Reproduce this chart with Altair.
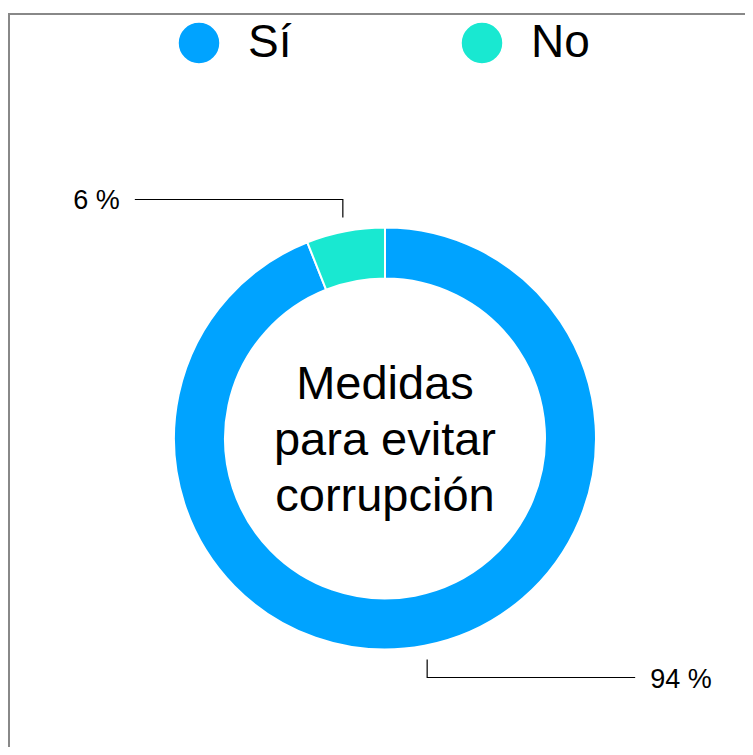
import altair as alt
import pandas as pd
import numpy as np

categories = ["Sí", "No"]
values = [94, 6]
labels = ["94 %", "6 %"]
colors = ["#00A3FF", "#19E8D1"]
center_title = ["Medidas", "para evitar", "corrupción"]

FONT = "Liberation Sans"
W, H = 737, 739
CX, CY = 377, 430.5
R_OUT, R_IN = 211, 160
R_LEAD = 225
ELBOW = 18
ARM = 208
GAP = 15
LH = 56

df = pd.DataFrame({"cat": categories, "value": values, "label": labels,
                   "idx": list(range(len(categories)))})
total = df["value"].sum()
start = df["value"].cumsum() - df["value"]
mid = (start + df["value"] / 2) / total * 2 * np.pi

rows = []
trows = []
for i, r in df.iterrows():
    a = mid[i]
    x0 = CX + R_LEAD * np.sin(a)
    y0 = CY - R_LEAD * np.cos(a)
    up = np.cos(a) > 0
    left = np.sin(a) < 0
    y1 = y0 - ELBOW if up else y0 + ELBOW
    x2 = x0 - ARM if left else x0 + ARM
    for k, (px, py) in enumerate([(x0, y0), (x0, y1), (x2, y1)]):
        rows.append({"cat": r["cat"], "k": k, "px": px, "py": py})
    trows.append({"label": r["label"], "tx": x2 - GAP if left else x2 + GAP,
                  "ty": y1, "side": "left" if left else "right"})
lines_df = pd.DataFrame(rows)
text_df = pd.DataFrame(trows)

arc = alt.Chart(df).mark_arc(outerRadius=R_OUT, innerRadius=R_IN, stroke="white",
                             strokeWidth=2).encode(
    theta=alt.Theta("value:Q", stack=True),
    order=alt.Order("idx:Q", sort="ascending"),
    color=alt.Color("cat:N", scale=alt.Scale(domain=categories, range=colors),
                    legend=alt.Legend(orient="none", legendX=168, legendY=12,
                                      direction="horizontal", title=None,
                                      symbolType="circle", symbolSize=1764,
                                      symbolStrokeColor="white", symbolStrokeWidth=1.5,
                                      symbolOpacity=1,
                                      labelFontSize=46, labelFont=FONT, labelColor="black",
                                      labelOffset=26, columnPadding=166, padding=0)),
    x=alt.value(CX), y=alt.value(CY),
)

center = alt.Chart(df).mark_text(fontSize=47, lineHeight=LH, font=FONT, baseline="middle",
                                 align="center", color="black").encode(
    text=alt.value(center_title), x=alt.value(CX), y=alt.value(CY - LH + 2)
).transform_filter(alt.datum.idx == 0)

leaders = alt.Chart(lines_df).mark_line(color="black", strokeWidth=1.2).encode(
    x=alt.X("px:Q", scale=None), y=alt.Y("py:Q", scale=None),
    detail="cat:N", order="k:Q",
)

txt_left = alt.Chart(text_df).mark_text(fontSize=27, font=FONT, align="right",
                                        baseline="middle", color="black", dy=2).encode(
    x=alt.X("tx:Q", scale=None), y=alt.Y("ty:Q", scale=None), text="label:N"
).transform_filter(alt.datum.side == "left")

txt_right = alt.Chart(text_df).mark_text(fontSize=27, font=FONT, align="left",
                                         baseline="middle", color="black", dy=2).encode(
    x=alt.X("tx:Q", scale=None), y=alt.Y("ty:Q", scale=None), text="label:N"
).transform_filter(alt.datum.side == "right")

border_l = alt.Chart(df).mark_rule(color="#888888", strokeWidth=2).encode(
    x=alt.value(1), y=alt.value(5), y2=alt.value(H)
).transform_filter(alt.datum.idx == 0)
border_t = alt.Chart(df).mark_rule(color="#888888", strokeWidth=2).encode(
    x=alt.value(0), x2=alt.value(W), y=alt.value(6)
).transform_filter(alt.datum.idx == 0)

chart = alt.layer(border_l, border_t, arc, center, leaders, txt_left, txt_right).properties(
    width=W, height=H, autosize=alt.AutoSizeParams(type="none"), padding=0
).configure_view(stroke=None)

chart.save("out.html", embed_options={"renderer": "svg", "actions": False})
